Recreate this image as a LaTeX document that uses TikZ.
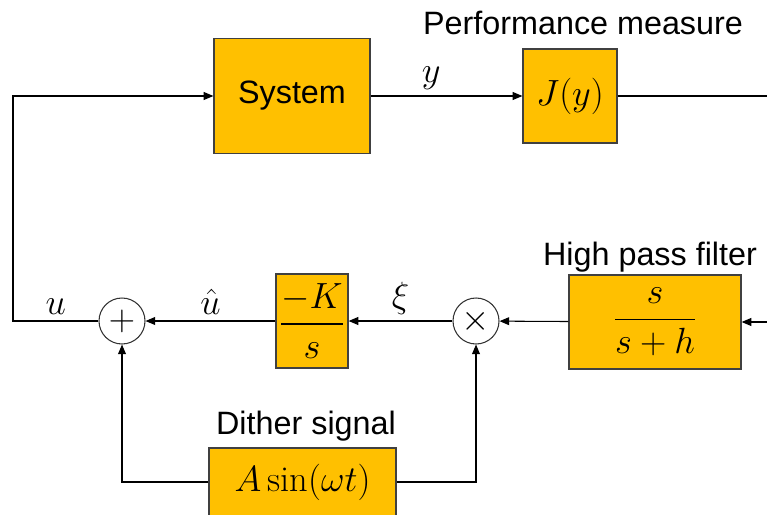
\documentclass[tikz,border=0pt]{standalone}
\usepackage{amsmath,amssymb}
\usepackage{fontspec}
\newfontfamily\arial{Liberation Sans}
\usepackage{tikz}
\usetikzlibrary{arrows.meta}
\usepackage{xcolor}
\definecolor{gold}{HTML}{FFC000}

\begin{document}
\begin{tikzpicture}[>={Triangle[length=5.5pt,width=4.5pt]},line width=0.6pt,
	block/.style={draw=black!75,fill=gold,line width=0.7pt,inner sep=0pt,font=\huge},
	junction/.style={draw=black!80,circle,fill=white,minimum size=0.92cm,inner sep=0pt,font=\huge},
	caption/.style={font=\arial\fontsize{18.4}{22}\selectfont,inner sep=0pt},
	sig/.style={font=\huge}]
		\useasboundingbox (0,0) rectangle (15.34,-10.28);
		
		% Plant and performance measure
		\node[block,minimum width=3.12cm,minimum height=2.3cm,font=\arial\fontsize{18.4}{22}\selectfont] (sys) at (5.84,-1.92) {System};
		\node[block,minimum width=1.88cm,minimum height=1.88cm] (perf) at (11.4,-1.92) {$J(y)$};
		\node[caption] (perftitle) at (11.66,-0.46) {Performance measure};
		
		% Feedback path
		\node[junction] (sum) at (2.44,-6.42) {$+$};
		\node[block,minimum width=1.44cm,minimum height=1.88cm] (integ) at (6.24,-6.42) {$\dfrac{-K}{s}$};
		\node[junction] (mult) at (9.52,-6.42) {$\times$};
		\node[block,minimum width=3.44cm,minimum height=1.88cm] (hpf) at (13.1,-6.44) {$\dfrac{s}{s+h}$};
		\node[caption] (hpftitle) at (13.0,-5.14) {High pass filter};
		
		% Dither
		\node[block,minimum width=3.74cm,minimum height=1.36cm] (dither) at (6.05,-9.64) {$A\sin(\omega t)$};
		\node[caption] (dithertitle) at (6.12,-8.52) {Dither signal};
		
		% Free ends
		\coordinate (corner) at (0.26,-6.42);
		\coordinate (jout) at (15.6,-1.92);
		\coordinate (hin) at (15.6,-6.44);
		
		% Signals
		\draw[->] (sys) -- node[sig,above,pos=0.4] {$y$} (perf);
		\draw (perf) -- (jout);
		\draw[->] (hin) -- (hpf);
		\draw[->] (hpf) -- (mult);
		\draw[->] (mult) -- node[sig,above] {$\xi$} (integ);
		\draw[->] (integ) -- node[sig,above] {$\hat{u}$} (sum);
		\draw[->] (sum) -- node[sig,above] {$u$} (corner) |- (sys);
		\draw[->] (dither.west) -| (sum);
		\draw[->] (dither.east) -| (mult);
	\end{tikzpicture}
\end{document}
